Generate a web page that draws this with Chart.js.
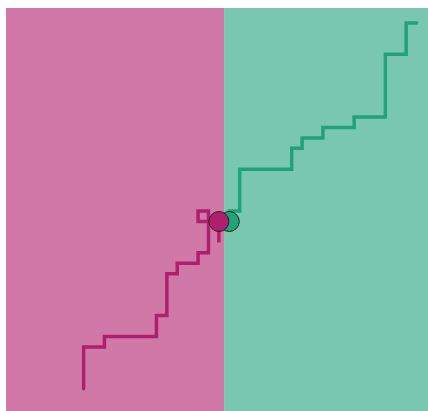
<!DOCTYPE html>
<html>
<head>
<meta charset="utf-8">
<script src="https://cdn.jsdelivr.net/npm/chart.js@4"></script>
<style>
	html, body { margin: 0; padding: 0; background: #fff; }
	canvas { display: block; }
</style>
</head>
<body>
<canvas id="myChart" width="428" height="411"></canvas>
<script>
// walk corners (grid units)
const pinkX = [0, 0, -2, -1, -2, -4, -5, -6, -11, -13, -13];
const pinkY = [0, -2, 0, 1, -3, -4, -5, -9, -11, -12, -16];
const tealX = [1, 2, 7, 8, 10, 13, 16, 18, 19];
const tealY = [0, 1, 5, 7, 8, 9, 10, 16, 19];
const splitAt = 0.5;

const pinkLine = '#b01f6e';
const tealLine = '#21a27a';

function toPoints(xs, ys) {
	return xs.map((x, i) => ({ x: x, y: ys[i] }));
}

// two coloured halves behind the walks
const halves = {
	id: 'halves',
	beforeDatasetsDraw(chart) {
		const { ctx, chartArea: a, scales } = chart;
		const mid = scales.x.getPixelForValue(splitAt);
		ctx.save();
		ctx.fillStyle = 'rgba(176, 31, 110, 0.6)';
		ctx.fillRect(a.left, a.top, mid - a.left, a.bottom - a.top);
		ctx.fillStyle = 'rgba(33, 162, 122, 0.6)';
		ctx.fillRect(mid, a.top, a.right - mid, a.bottom - a.top);
		ctx.restore();
	},
};

var ctx = document.getElementById('myChart').getContext('2d');

new Chart(ctx, {
	type: 'line',
	data: {
		datasets: [
			{
				data: toPoints(pinkX, pinkY),
				borderColor: pinkLine,
				backgroundColor: pinkLine,
				pointBorderColor: '#222',
				pointBorderWidth: 1,
				pointRadius: (c) => (c.dataIndex === 0 ? 10 : 0),
				borderWidth: 3.5,
				stepped: 'after',
				borderCapStyle: 'round',
				fill: false,
			},
			{
				data: toPoints(tealX, tealY),
				borderColor: tealLine,
				backgroundColor: tealLine,
				pointBorderColor: '#222',
				pointBorderWidth: 1,
				pointRadius: (c) => (c.dataIndex === 0 ? 10 : 0),
				borderWidth: 3.5,
				stepped: 'after',
				borderCapStyle: 'round',
				fill: false,
			},
		],
	},
	options: {
		responsive: false,
		animation: false,
		devicePixelRatio: 1,
		layout: { autoPadding: false, padding: { left: 6, top: 8, right: 0, bottom: 0 } },
		plugins: { legend: { display: false }, tooltip: { enabled: false } },
		scales: {
			x: { type: 'linear', display: false, min: -20.46, max: 20.1 },
			y: { type: 'linear', display: false, min: -18.13, max: 20.43 },
		},
	},
	plugins: [halves],
});
</script>
</body>
</html>
